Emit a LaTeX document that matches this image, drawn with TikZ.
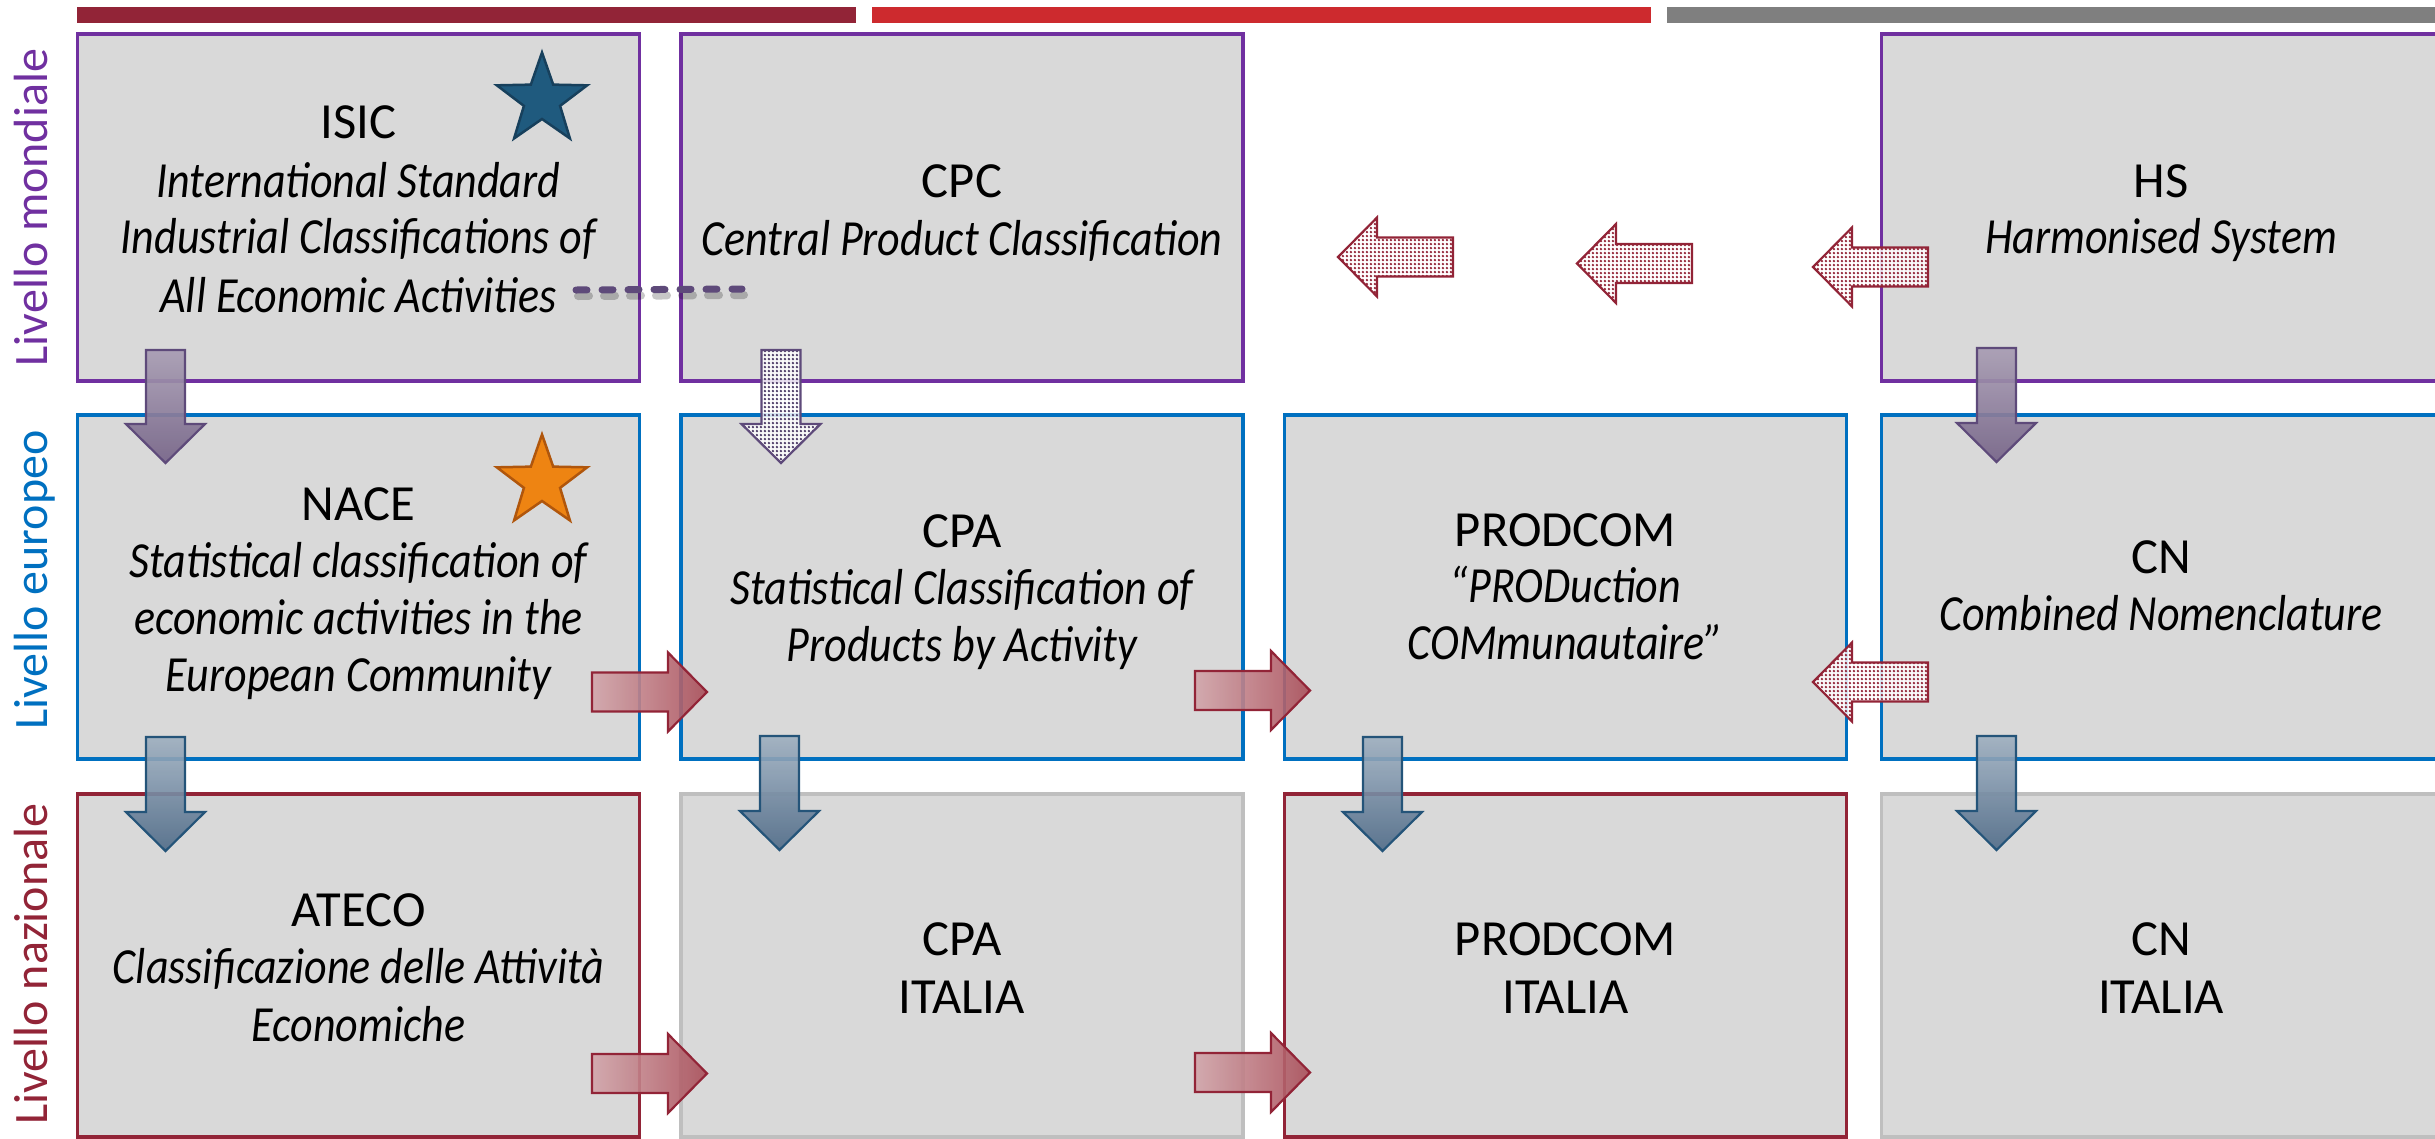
\documentclass[tikz,border=0pt]{standalone}
\usepackage{fontspec}
\setmainfont{Carlito}[ItalicFeatures={FakeStretch=0.87}]
\usetikzlibrary{calc,shapes.geometric,patterns}

\definecolor{boxgray}{HTML}{D9D9D9}
\definecolor{mpurple}{HTML}{7030A0}
\definecolor{mblue}{HTML}{0070C0}
\definecolor{mdred}{HTML}{922437}
\definecolor{mgrey}{HTML}{BFBFBF}
\definecolor{barred}{HTML}{CD2A2E}
\definecolor{bargrey}{HTML}{7F7F7F}
\definecolor{dotpurple}{HTML}{4B3A66}
\definecolor{arrpurpleb}{HTML}{5E4A7A}
\definecolor{arrpurplet}{HTML}{A89DB3}
\definecolor{arrpurplebot}{HTML}{766488}
\definecolor{arrbluet}{HTML}{9EAFC0}
\definecolor{arrbluebot}{HTML}{4E6A87}
\definecolor{arrblueb}{HTML}{245479}
\definecolor{arrredl}{HTML}{D2A5AA}
\definecolor{arrredr}{HTML}{A94E59}
\definecolor{starblue}{HTML}{1F5A7E}
\definecolor{starblueb}{HTML}{17405C}
\definecolor{starorange}{HTML}{EE8412}
\definecolor{starorangeb}{HTML}{B0560C}
\definecolor{dashpurple}{HTML}{5E4A7A}

\pgfdeclarepatternformonly{mydots}{\pgfqpoint{0pt}{0pt}}{\pgfqpoint{4.4pt}{4.4pt}}{\pgfqpoint{4.4pt}{4.4pt}}{\pgfpathcircle{\pgfqpoint{2.2pt}{2.2pt}}{1.5pt}\pgfusepath{fill}}

% block arrow from coordinate #2 to coordinate #3
\newcommand{\blockarrow}[3]{%
  \path ($(#3)!39pt!(#2)$) coordinate (ba);
  \draw[#1] ($(#2)!19.5pt!90:(#3)$) -- ($(ba)!19.5pt!90:(#3)$) -- ($(ba)!39.5pt!90:(#3)$) -- (#3)
    -- ($(ba)!39.5pt!-90:(#3)$) -- ($(ba)!19.5pt!-90:(#3)$) -- ($(#2)!19.5pt!-90:(#3)$) -- cycle;
}

\begin{document}
\begin{tikzpicture}[x=1pt,y=-1pt,
  boxstyle/.style={draw, line width=3.5pt, fill=boxgray, minimum width=562pt, inner sep=0pt},
  txt/.style={anchor=base, inner sep=0pt, font=\fontsize{50.6}{58}\selectfont},
  itx/.style={anchor=base, inner sep=0pt, font=\fontsize{50.6}{58}\selectfont\itshape},
  side/.style={anchor=base, inner sep=0pt, rotate=90, font=\fontsize{48}{52}\selectfont},
  solidpurple/.style={draw=arrpurpleb, line width=2.2pt, top color=arrpurplet, bottom color=arrpurplebot, fill opacity=0.92},
  solidblue/.style={draw=arrblueb, line width=2.2pt, top color=arrbluet, bottom color=arrbluebot, fill opacity=0.9},
  solidred/.style={draw=mdred, line width=2.2pt, left color=arrredl, right color=arrredr, fill opacity=0.9},
  dotpurplearr/.style={draw=arrpurpleb, line width=2.2pt, preaction={fill=white, fill opacity=0.85}, pattern=mydots, pattern color=dotpurple},
  dotredarr/.style={draw=mdred, line width=2.2pt, preaction={fill=white, fill opacity=0.85}, pattern=mydots, pattern color=mdred},
  dashline/.style={draw=dashpurple, line width=7pt, line cap=round, dash pattern=on 11pt off 15pt},
  shadowline/.style={draw=black, opacity=0.22, line width=8pt, line cap=round, dash pattern=on 11pt off 15pt},
  starbox/.style={star, star points=5, star point ratio=2.5, minimum size=95pt, inner sep=0pt, line width=2.5pt}
]
\path[use as bounding box, fill=white] (0,0) rectangle (2435,1138);

% top bars
\fill[mdred] (77,7) rectangle (856,23);
\fill[barred] (872,7) rectangle (1651,23);
\fill[bargrey] (1667,7) rectangle (2440,23);

% side labels
\node[side, text=mpurple] (lmond) at (47,207.5) {Livello mondiale};
\node[side, text=mblue] (leuro) at (47,580) {Livello europeo};
\node[side, text=mdred] (lnaz) at (47,964) {Livello nazionale};

% boxes
\node[boxstyle, draw=mpurple, minimum height=347pt] (isic) at (358.5,207.5) {};
\node[boxstyle, draw=mpurple, minimum height=347pt] (cpc) at (962,207.5) {};
\node[boxstyle, draw=mpurple, minimum height=347pt] (hs) at (2162.5,207.5) {};
\node[boxstyle, draw=mblue, minimum height=344pt] (nace) at (358.5,587) {};
\node[boxstyle, draw=mblue, minimum height=344pt] (cpa) at (962,587) {};
\node[boxstyle, draw=mblue, minimum height=344pt] (prodcom) at (1565.5,587) {};
\node[boxstyle, draw=mblue, minimum height=344pt] (cn) at (2162.5,587) {};
\node[boxstyle, draw=mdred, minimum height=343pt] (ateco) at (358.5,965.5) {};
\node[boxstyle, draw=mgrey, minimum height=343pt] (cpait) at (962,965.5) {};
\node[boxstyle, draw=mdred, minimum height=343pt] (prodit) at (1565.5,965.5) {};
\node[boxstyle, draw=mgrey, minimum height=343pt] (cnit) at (2162.5,965.5) {};

% texts row 1
\node[txt] (t11) at (358.5,138) {ISIC};
\node[itx] (t12) at (358.5,197) {International Standard};
\node[itx] (t13) at (358.5,253) {Industrial Classifications of};
\node[itx] (t14) at (358.5,312) {All Economic Activities};
\node[txt] (t21) at (962,197) {CPC};
\node[itx] (t22) at (962,255) {Central Product Classification};
\node[txt] (t41) at (2161,197) {HS};
\node[itx] (t42) at (2161,253) {Harmonised System};
% texts row 2
\node[txt] (n1) at (358.5,520) {NACE};
\node[itx] (n2) at (358.5,577) {Statistical classification of};
\node[itx] (n3) at (358.5,634) {economic activities in the};
\node[itx] (n4) at (358.5,691) {European Community};
\node[txt] (c1) at (962,547) {CPA};
\node[itx] (c2) at (962,604) {Statistical Classification of};
\node[itx] (c3) at (962,661) {Products by Activity};
\node[txt] (p1) at (1565.5,546) {PRODCOM};
\node[itx] (p2) at (1565.5,602) {“PRODuction};
\node[itx] (p3) at (1565.5,659) {COMmunautaire”};
\node[txt] (cn1) at (2161,573) {CN};
\node[itx] (cn2) at (2161,630) {Combined Nomenclature};
% texts row 3
\node[txt] (a1) at (358.5,926) {ATECO};
\node[itx] (a2) at (358.5,983) {Classificazione delle Attività};
\node[itx] (a3) at (358.5,1041) {Economiche};
\node[txt] (ci1) at (962,955) {CPA};
\node[txt] (ci2) at (962,1013) {ITALIA};
\node[txt] (pi1) at (1565.5,955) {PRODCOM};
\node[txt] (pi2) at (1565.5,1013) {ITALIA};
\node[txt] (ni1) at (2161,955) {CN};
\node[txt] (ni2) at (2161,1013) {ITALIA};

% stars
\node[starbox, fill=starblue, draw=starblueb] (isicstar) at (542,100) {};
\node[starbox, fill=starorange, draw=starorangeb] (nacestar) at (542,482) {};

% dashed link ISIC -- CPC
\coordinate (d1) at (576,290);
\coordinate (d2) at (742,289);
\draw[shadowline] ($(d1)+(2,6)$) -- ($(d2)+(2,6)$);
\draw[dashline] (d1) -- (d2);

% arrow end points
\coordinate (s1) at (165.5,350);  \coordinate (e1) at (165.5,463);
\coordinate (s2) at (781,350);    \coordinate (e2) at (781,463);
\coordinate (s3) at (1996.5,348); \coordinate (e3) at (1996.5,462);
\coordinate (s4) at (165.5,737);  \coordinate (e4) at (165.5,851);
\coordinate (s5) at (779.5,736);  \coordinate (e5) at (779.5,850);
\coordinate (s6) at (1382.5,737); \coordinate (e6) at (1382.5,851);
\coordinate (s7) at (1996.5,736); \coordinate (e7) at (1996.5,850);
\coordinate (rs1) at (592,692);     \coordinate (re1) at (707,692);
\coordinate (rs2) at (1195,690.5);  \coordinate (re2) at (1310,690.5);
\coordinate (rs3) at (592,1073.5);  \coordinate (re3) at (707,1073.5);
\coordinate (rs4) at (1195,1072.5); \coordinate (re4) at (1310,1072.5);
\coordinate (ls1) at (1453,257);   \coordinate (le1) at (1338,257);
\coordinate (ls2) at (1692,263.5); \coordinate (le2) at (1577,263.5);
\coordinate (ls3) at (1928,267);   \coordinate (le3) at (1813,267);
\coordinate (ls4) at (1928,682);   \coordinate (le4) at (1813,682);

% arrows
\blockarrow{solidpurple}{s1}{e1}
\blockarrow{dotpurplearr}{s2}{e2}
\blockarrow{solidpurple}{s3}{e3}
\blockarrow{solidblue}{s4}{e4}
\blockarrow{solidblue}{s5}{e5}
\blockarrow{solidblue}{s6}{e6}
\blockarrow{solidblue}{s7}{e7}
\blockarrow{solidred}{rs1}{re1}
\blockarrow{solidred}{rs2}{re2}
\blockarrow{solidred}{rs3}{re3}
\blockarrow{solidred}{rs4}{re4}
\blockarrow{dotredarr}{ls1}{le1}
\blockarrow{dotredarr}{ls2}{le2}
\blockarrow{dotredarr}{ls3}{le3}
\blockarrow{dotredarr}{ls4}{le4}
\end{tikzpicture}
\end{document}
